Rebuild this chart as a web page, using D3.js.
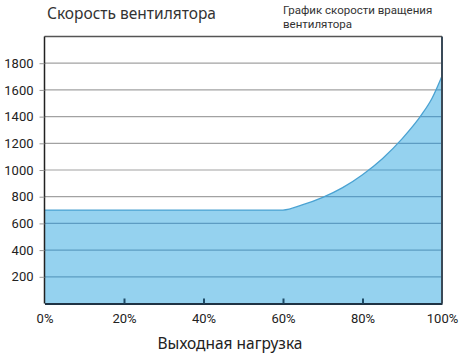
<!DOCTYPE html>
<html><head><meta charset="utf-8">
<script src="https://cdn.jsdelivr.net/npm/d3@7"></script>
<style>body{margin:0;background:#fff}svg{display:block}text{font-family:"Noto Sans",sans-serif}</style>
</head><body>
<svg id="c" width="460" height="360"></svg>
<script>
const loadPct = [0, 60, 65, 70, 75, 80, 85, 90, 95, 97.5, 100];
const fanSpeed = [700, 700, 740, 795, 868, 965, 1085, 1235, 1420, 1538, 1705];
const yTicks = [200, 400, 600, 800, 1000, 1200, 1400, 1600, 1800];
const xTicks = [0, 20, 40, 60, 80, 100];
const title = "Скорость вентилятора";
const subtitle = ["График скорости вращения", "вентилятора"];
const xTitle = "Выходная нагрузка";

const svg = d3.select("#c");
const m = {l: 44.5, r: 442, t: 36.5, b: 303.5};
const x = d3.scaleLinear().domain([0, 100]).range([m.l, m.r]);
const y = d3.scaleLinear().domain([0, 2000]).range([m.b, m.t]);
const data = loadPct.map((p, i) => ({p, v: fanSpeed[i]}));

const area = d3.area().x(d => x(d.p)).y0(y(0)).y1(d => y(d.v)).curve(d3.curveMonotoneX);
const line = d3.line().x(d => x(d.p)).y(d => y(d.v)).curve(d3.curveMonotoneX);

svg.append("defs").append("clipPath").attr("id", "ac").append("path").datum(data).attr("d", area);

// grid (gray)
svg.append("g").selectAll("line").data(yTicks).join("line")
  .attr("x1", m.l).attr("x2", m.r).attr("y1", d => y(d)).attr("y2", d => y(d))
  .attr("stroke", "#a2a2a2").attr("stroke-width", 1.2);

// area
svg.append("path").datum(data).attr("d", area).attr("fill", "#95d2ef");
// grid inside fill (blue)
svg.append("g").attr("clip-path", "url(#ac)").selectAll("line").data(yTicks).join("line")
  .attr("x1", m.l).attr("x2", m.r).attr("y1", d => y(d)).attr("y2", d => y(d))
  .attr("stroke", "#5d9cc2").attr("stroke-width", 1.2);
svg.append("path").datum(data).attr("d", line).attr("fill", "none").attr("stroke", "#4aa2d2").attr("stroke-width", 1.3);

// frame
svg.append("line").attr("x1", m.l).attr("x2", m.r).attr("y1", m.t).attr("y2", m.t).attr("stroke", "#555").attr("stroke-width", 1.5);
svg.append("line").attr("x1", m.r).attr("x2", m.r).attr("y1", m.t).attr("y2", m.b).attr("stroke", "#3a4a58").attr("stroke-width", 2);

// y axis
const ya = svg.append("g").attr("transform", `translate(${m.l},0)`)
  .call(d3.axisLeft(y).tickValues(yTicks).tickFormat(d3.format("d")).tickSize(5).tickPadding(6));
ya.select(".domain").attr("stroke", "#222").attr("stroke-width", 1.5).attr("d", `M0,${m.t}V${m.b}`);
ya.selectAll(".tick line").attr("stroke", "#999");
ya.selectAll("text").attr("fill", "#222").style("font-size", "13px").style("font-family", "Roboto, sans-serif");

// x axis
const xa = svg.append("g").attr("transform", `translate(0,${m.b})`)
  .call(d3.axisBottom(x).tickValues(xTicks).tickFormat(d => d + "%").tickSize(0).tickPadding(10));
xa.select(".domain").attr("stroke", "#1f3344").attr("stroke-width", 2);
xa.selectAll(".tick").filter(d => d > 0 && d < 100).append("line")
  .attr("y1", 0).attr("y2", -5).attr("stroke", "#1f4a66").attr("stroke-width", 2);
xa.selectAll("text").attr("fill", "#222").style("font-size", "13px").style("font-family", "Roboto, sans-serif");

// titles
svg.append("text").attr("x", 47).attr("y", 19).attr("fill", "#333").style("font-size", "15.5px").text(title);
svg.append("text").attr("x", 283).attr("y", 14).attr("fill", "#333").style("font-size", "11.5px").style("font-family", "Roboto, sans-serif")
  .selectAll("tspan").data(subtitle).join("tspan").attr("x", 283).attr("dy", (d, i) => i ? 13.6 : 0).text(d => d);
svg.append("text").attr("x", 230).attr("y", 349).attr("text-anchor", "middle").attr("fill", "#222").style("font-size", "15.5px").text(xTitle);
</script>
</body></html>
